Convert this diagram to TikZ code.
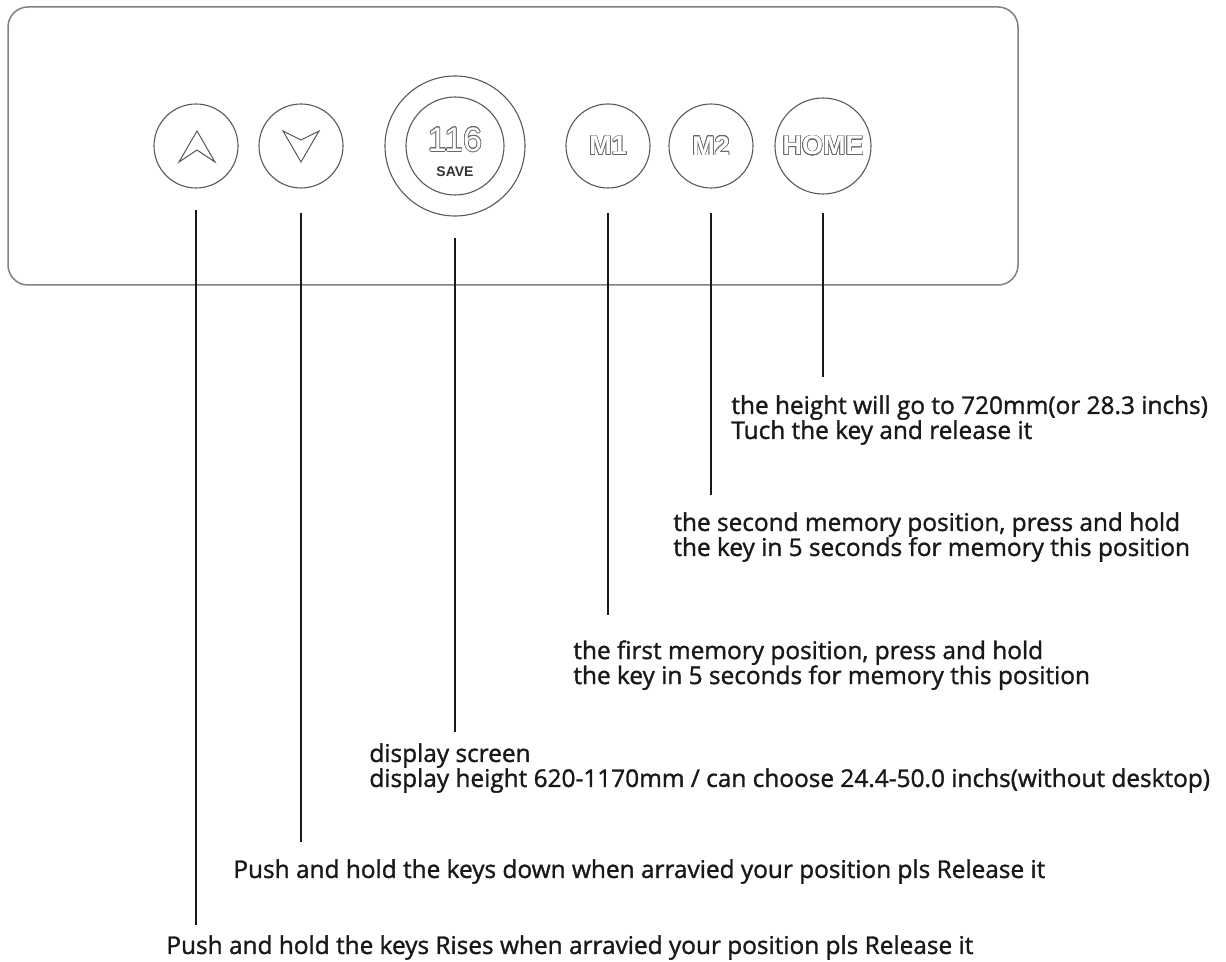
\documentclass[tikz,border=0pt]{standalone}
\usepackage{fontspec}
\setmainfont{Open Sans}
\newfontfamily\notefont{Open Sans}[FakeBold=1.3]
\newfontfamily\keyfont{Liberation Sans}
\usepackage[copies]{contour}
\usetikzlibrary{positioning}

\newcommand{\hollow}[1]{\contourlength{0.35pt}\contour{black!60}{\textcolor{white}{#1}}}

\tikzset{
  key/.style={circle, draw=black!65, line width=0.55pt, inner sep=0pt, minimum size=#1},
  key/.default=42pt,
  keytext/.style={font=\keyfont\bfseries\fontsize{13.5}{13.5}\selectfont},
  glyph/.style={draw=black!65, line width=0.5pt, line join=miter},
  lead/.style={line width=1.3pt, black!90},
  note/.style={anchor=north west, inner sep=0pt, align=left, text=black!90,
    font=\notefont\fontsize{12.2}{12.5}\selectfont},
}

\begin{document}
\begin{tikzpicture}[x=0.5pt,y=-0.5pt]
\useasboundingbox (0,0) rectangle (1226,962);
\draw[black!50, line width=0.75pt, rounded corners=10pt] (8,7) rectangle (1018,285);

\node[key] (up) at (196,146) {};
\node[key] (down) at (301,146) {};
\node[key=70pt] (screen) at (455,146) {};
\node[key=49pt] (save) at (455,146) {};
\node[key, keytext] (mone) at (608,146) {\hollow{M1}};
\node[key, keytext] (mtwo) at (711,146) {\hollow{M2}};
\node[key=48pt, keytext] (home) at (823,146) {\hollow{HOME}};

\node[inner sep=0pt, font=\keyfont\fontsize{17}{17}\selectfont] (count) at (455,140) {\hollow{116}};
\node[inner sep=0pt, font=\keyfont\bfseries\fontsize{7}{7}\selectfont, text=black!80]
  (savetxt) at (455,172) {SAVE};

\begin{scope}[shift={(up.center)}]
\draw[glyph] (1,-15) -- (19,16) -- (1,4) -- (-17,16) -- cycle;
\end{scope}
\begin{scope}[shift={(down.center)}]
\draw[glyph] (-18,-15) -- (0,-6) -- (18,-15) -- (0,16) -- cycle;
\end{scope}

\node[note] (hometxt) at (731,395)
  {the height will go to 720mm(or 28.3 inchs)\\Tuch the key and release it};
\node[note] (mtwotxt) at (673,512)
  {the second memory position, press and hold\\the key in 5 seconds for memory this position};
\node[note] (monetxt) at (573,640)
  {the first memory position, press and hold\\the key in 5 seconds for memory this position};
\node[note] (screentxt) at (369,743)
  {display screen\\display height 620-1170mm / can choose 24.4-50.0 inchs(without desktop)};
\node[note] (downtxt) at (233,859)
  {Push and hold the keys down when arravied your position pls Release it};
\node[note] (uptxt) at (166,935)
  {Push and hold the keys Rises when arravied your position pls Release it};

\coordinate (upend) at (195,925);
\coordinate (downend) at (303,842);
\coordinate (screenend) at (458,732);
\coordinate (moneend) at (609,615);
\coordinate (mtwoend) at (712,495);
\coordinate (homeend) at (826,377);

\foreach \k/\gap in {up/10.5, down/12, screen/10.5, mone/12, mtwo/12, home/9}
  \draw[lead] ([yshift=-\gap pt]\k.south) -- (\k.south |- \k end);
\end{tikzpicture}
\end{document}
